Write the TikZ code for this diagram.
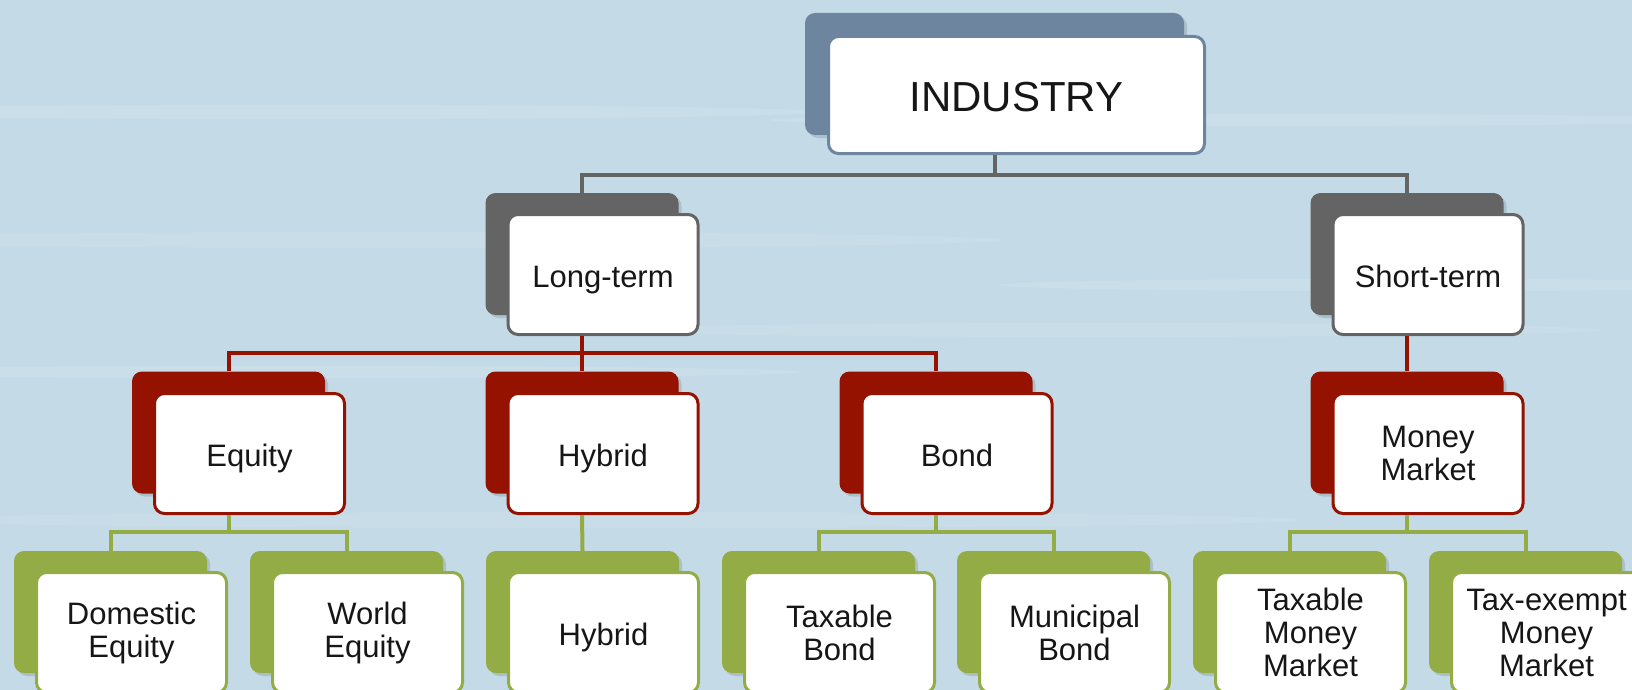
\documentclass[tikz,border=0pt]{standalone}
\usepackage{fontspec}
\setmainfont{Liberation Sans}
\usetikzlibrary{shadows}
\definecolor{bg}{HTML}{C4DBE7}
\definecolor{slate}{HTML}{6E85A0}
\definecolor{dgray}{HTML}{646464}
\definecolor{dred}{HTML}{961200}
\definecolor{olive}{HTML}{93AC45}
\definecolor{ink}{HTML}{161616}
\begin{document}
\begin{tikzpicture}[x=1pt,y=-1pt,
  sh/.style={rectangle, rounded corners=10pt, minimum width=193pt, minimum height=122pt,
    fill=#1, inner sep=0pt,
    general shadow={fill=black, opacity=0.12, shadow xshift=3pt, shadow yshift=-3pt}},
  fr/.style={rectangle, rounded corners=10pt, minimum width=190pt, minimum height=120pt,
    fill=white, draw=#1, line width=3pt, align=center, inner sep=0pt, text=ink,
    font=\fontsize{31}{33}\selectfont},
  oneline/.style={text height=26pt, text depth=0pt},
  twoline/.style={inner sep=0pt, text depth=12pt},
  conn/.style={draw=#1, line width=4pt},
]
\clip (0,0) rectangle (1632,690);
\fill[bg] (0,0) rectangle (1632,690);
% faint background streaks
\fill[white, opacity=0.10] (300,112) ellipse (520 and 7);
\fill[white, opacity=0.10] (1250,120) ellipse (480 and 6);
\fill[white, opacity=0.08] (400,240) ellipse (600 and 8);
\fill[white, opacity=0.10] (1400,285) ellipse (400 and 6);
\fill[white, opacity=0.10] (300,372) ellipse (500 and 6);
\fill[white, opacity=0.08] (1100,330) ellipse (500 and 7);
\fill[white, opacity=0.08] (600,520) ellipse (700 and 8);

% level 1
\node[sh=slate, minimum width=379pt] (ind-s) at (994.5,74) {};
\node[fr=slate, minimum width=376pt, minimum height=117pt,
      font=\fontsize{42}{44}\selectfont, text height=34pt, text depth=0pt] (ind) at (1016.5,95) {INDUSTRY};

% level 2
\node[sh=dgray] (lt-s) at (582,254) {};
\node[fr=dgray, oneline] (lt) at (603,274.5) {Long-term};
\node[sh=dgray] (st-s) at (1407,254) {};
\node[fr=dgray, oneline] (st) at (1428,274.5) {Short-term};

% level 3
\node[sh=dred] (eq-s) at (228.5,432.5) {};
\node[fr=dred, oneline] (eq) at (249.5,453.5) {Equity};
\node[sh=dred] (hy-s) at (582,432.5) {};
\node[fr=dred, oneline] (hy) at (603,453.5) {Hybrid};
\node[sh=dred] (bd-s) at (936,432.5) {};
\node[fr=dred, oneline] (bd) at (957,453.5) {Bond};
\node[sh=dred] (mm-s) at (1407,432.5) {};
\node[fr=dred] (mm) at (1428,453.5) {Money\\Market};

% level 4
\node[sh=olive] (de-s) at (110.5,612) {};
\node[fr=olive] (de) at (131.5,632.5) {Domestic\\Equity};
\node[sh=olive] (we-s) at (346.5,612) {};
\node[fr=olive] (we) at (367.5,632.5) {World\\Equity};
\node[sh=olive] (hb-s) at (582.5,612) {};
\node[fr=olive, oneline] (hb) at (603.5,632.5) {Hybrid};
\node[sh=olive] (tb-s) at (818.5,612) {};
\node[fr=olive] (tb) at (839.5,632.5) {Taxable\\Bond};
\node[sh=olive] (mb-s) at (1053.5,612) {};
\node[fr=olive] (mb) at (1074.5,632.5) {Municipal\\Bond};
\node[sh=olive] (tm-s) at (1289.5,612) {};
\node[fr=olive] (tm) at (1310.5,632.5) {Taxable\\Money\\Market};
\node[sh=olive] (te-s) at (1525.5,612) {};
\node[fr=olive] (te) at (1546.5,632.5) {Tax-exempt\\Money\\Market};

% bus levels
\coordinate (b1) at (0,175);
\coordinate (b2) at (0,353);
\coordinate (b3) at (0,532);

% connectors level 1 -> 2
\draw[conn=dgray] (ind-s |- ind.south) -- (ind-s |- b1);
\draw[conn=dgray] (lt-s.north) |- (st-s |- b1) -- (st-s.north);

% level 2 -> 3
\draw[conn=dred] (lt-s |- lt.south) -- (hy-s.north);
\draw[conn=dred] (eq-s.north) |- (bd-s |- b2) -- (bd-s.north);
\draw[conn=dred] (st-s |- st.south) -- (mm-s.north);

% level 3 -> 4
\draw[conn=olive] (eq-s |- eq.south) -- (eq-s |- b3);
\draw[conn=olive] (de-s.north) |- (we-s |- b3) -- (we-s.north);
\draw[conn=olive] (hy-s |- hy.south) -- (hb-s.north);
\draw[conn=olive] (bd-s |- bd.south) -- (bd-s |- b3);
\draw[conn=olive] (tb-s.north) |- (mb-s |- b3) -- (mb-s.north);
\draw[conn=olive] (mm-s |- mm.south) -- (mm-s |- b3);
\draw[conn=olive] (tm-s.north) |- (te-s |- b3) -- (te-s.north);
\end{tikzpicture}
\end{document}
